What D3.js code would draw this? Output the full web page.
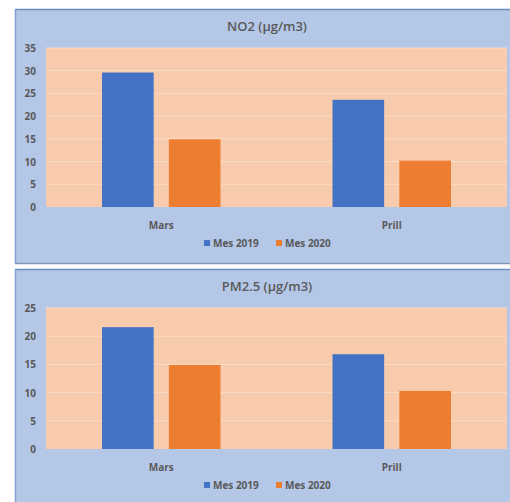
<!DOCTYPE html>
<html>
<head>
<meta charset="utf-8">
<script src="https://cdn.jsdelivr.net/npm/d3@7"></script>
<style>
  body { margin: 0; background: #fff; }
  svg text { font-family: "Open Sans", "Noto Sans", sans-serif; }
</style>
</head>
<body>
<div id="chart"></div>
<script>
// data
const categories = ["Mars", "Prill"];
const seriesNames = ["Mes 2019", "Mes 2020"];
const no2_2019 = [29.6, 23.6];
const no2_2020 = [14.9, 10.2];
const pm25_2019 = [21.6, 16.8];
const pm25_2020 = [14.9, 10.3];
const no2Ticks = [0, 5, 10, 15, 20, 25, 30, 35];
const pm25Ticks = [0, 5, 10, 15, 20, 25];

const colors = ["#4472c4", "#ed7d31"];

var svg = d3.select("#chart").append("svg").attr("width", 510).attr("height", 502);

function drawPanel(top, height, title, s1, s2, ticks, plotTop, plotBottom) {
  var g = svg.append("g");
  // panel background
  g.append("rect").attr("x", 15).attr("y", top).attr("width", 510).attr("height", height)
    .attr("fill", "#b4c7e7");
  g.append("line").attr("x1", 15).attr("x2", 510).attr("y1", top + 0.5).attr("y2", top + 0.5)
    .attr("stroke", "#6a8cc0").attr("stroke-width", 1.5);
  g.append("line").attr("x1", 15.5).attr("x2", 15.5).attr("y1", top).attr("y2", top + height)
    .attr("stroke", "#7f9fd0").attr("stroke-width", 1.5);
  g.append("line").attr("x1", 15).attr("x2", 510).attr("y1", top + height - 0.5).attr("y2", top + height - 0.5)
    .attr("stroke", "#8597ad").attr("stroke-width", 1.5);

  // title
  g.append("text").attr("x", 267).attr("y", top + 22).attr("text-anchor", "middle")
    .attr("font-size", 13).attr("font-weight", 600).attr("fill", "#595959").text(title);

  var x = d3.scaleBand().domain(categories).range([46, 507]);
  var y = d3.scaleLinear().domain([0, d3.max(ticks)]).range([plotBottom, plotTop]);

  g.append("rect").attr("x", 46).attr("y", plotTop).attr("width", 461).attr("height", plotBottom - plotTop)
    .attr("fill", "#f8cbad");

  // gridlines
  g.selectAll(".grid").data(ticks.slice(1)).enter().append("line")
    .attr("x1", 46).attr("x2", 507)
    .attr("y1", d => y(d)).attr("y2", d => y(d))
    .attr("stroke", "#fbdcc6").attr("stroke-width", 1);

  // y axis labels
  g.selectAll(".ylab").data(ticks).enter().append("text")
    .attr("x", 36).attr("y", d => y(d) + 4).attr("text-anchor", "end")
    .attr("font-size", 10).attr("font-weight", "bold").attr("fill", "#595959")
    .text(d => d);

  // bars
  var bw = x.bandwidth();
  var inner = d3.scaleBand().domain([0, 1]).range([bw * 0.243, bw * 0.757]).paddingInner(0.227);
  var series = [s1, s2];
  series.forEach(function (vals, si) {
    g.selectAll(".bar" + si).data(vals).enter().append("rect")
      .attr("x", (d, i) => x(categories[i]) + inner(si))
      .attr("y", d => y(d))
      .attr("width", inner.bandwidth())
      .attr("height", d => y(0) - y(d))
      .attr("fill", colors[si]);
  });

  // category labels
  g.selectAll(".xlab").data(categories).enter().append("text")
    .attr("x", d => x(d) + x.bandwidth() / 2).attr("y", plotBottom + 22)
    .attr("text-anchor", "middle").attr("font-size", 10).attr("font-weight", "bold")
    .attr("fill", "#595959").text(d => d);

  // legend
  var ly = plotBottom + 40;
  var lx = [204, 276];
  seriesNames.forEach(function (name, si) {
    g.append("rect").attr("x", lx[si]).attr("y", ly - 7).attr("width", 6).attr("height", 6)
      .attr("fill", colors[si]);
    g.append("text").attr("x", lx[si] + 9).attr("y", ly).attr("font-size", 10)
      .attr("font-weight", "bold").attr("fill", "#595959").text(name);
  });
}

drawPanel(9, 255, "NO2 (\u00b5g/m3)", no2_2019, no2_2020, no2Ticks, 48, 207);
drawPanel(269, 240, "PM2.5 (\u00b5g/m3)", pm25_2019, pm25_2020, pm25Ticks, 308, 449);
</script>
</body>
</html>
